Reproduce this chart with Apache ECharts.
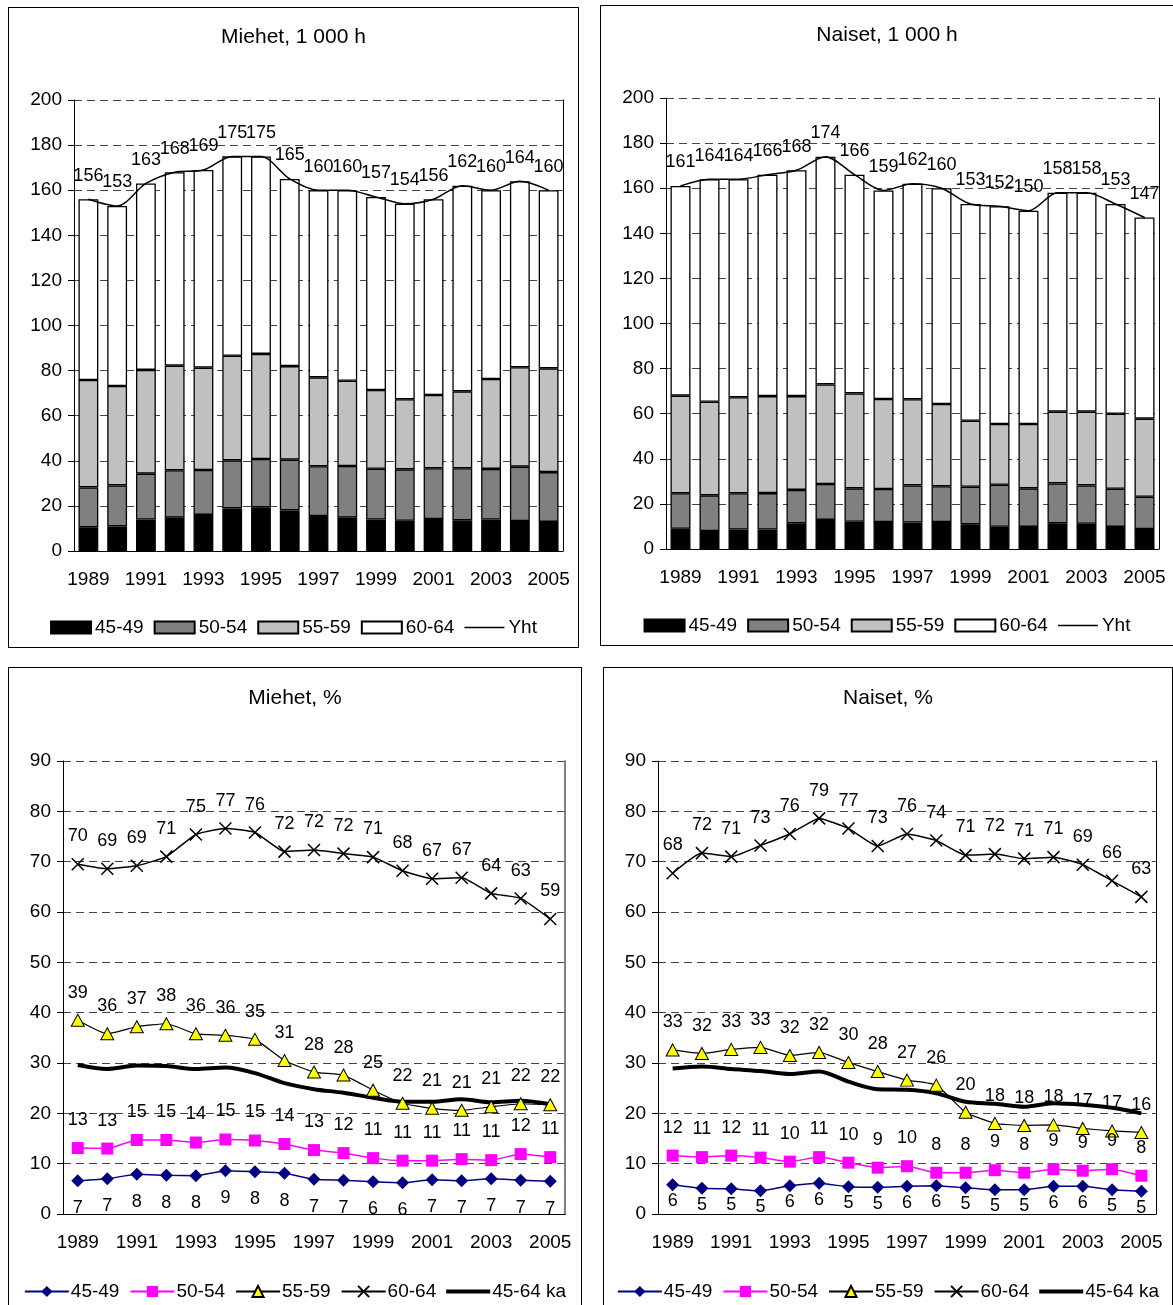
<!DOCTYPE html>
<html>
<head>
<meta charset="utf-8">
<script src="https://cdn.jsdelivr.net/npm/echarts@6/dist/echarts.min.js"></script>
<style>
  html, body { margin: 0; padding: 0; background: #fff; }
  body { width: 1173px; height: 1305px; overflow: hidden; position: relative; }
  .panel { position: absolute; border: 1px solid #000; box-sizing: border-box; background: #fff; }
  #c1 { left: 8px; top: 7px; width: 571px; height: 641px; }
  #c2 { left: 600px; top: 5px; width: 574px; height: 641px; }
  #c3 { left: 8px; top: 667px; width: 574px; height: 660px; }
  #c4 { left: 603px; top: 667px; width: 570px; height: 660px; }
</style>
</head>
<body>
<div class="panel" id="c1"></div>
<div class="panel" id="c2"></div>
<div class="panel" id="c3"></div>
<div class="panel" id="c4"></div>
<script>
var years = ['1989', '1990', '1991', '1992', '1993', '1994', '1995', '1996', '1997',
    '1998', '1999', '2000', '2001', '2002', '2003', '2004', '2005'];

// 1 000 henkeä, miehet
var menK4549 = [10.5, 10.9, 14.0, 14.8, 16.0, 18.9, 19.4, 18.0, 15.5, 14.8, 14.0, 13.4, 14.2, 13.6, 14.0, 13.3, 12.9];
var menK5054 = [17.7, 18.2, 20.3, 21.0, 19.9, 21.3, 21.4, 22.5, 22.1, 22.9, 22.5, 22.8, 22.5, 23.1, 22.4, 24.1, 22.1];
var menK5559 = [47.6, 44.1, 46.0, 46.4, 45.4, 46.4, 46.6, 41.5, 39.4, 37.8, 34.9, 31.1, 32.5, 34.1, 39.9, 44.1, 46.0];
var menK6064 = [80.2, 79.8, 82.7, 85.8, 87.7, 88.4, 87.6, 83.0, 83.0, 84.5, 85.6, 86.7, 86.8, 91.2, 83.7, 82.5, 79.0];
var menKYht = [156, 153, 163, 168, 169, 175, 175, 165, 160, 160, 157, 154, 156, 162, 160, 164, 160];

// 1 000 henkeä, naiset
var naiK4549 = [9.0, 8.0, 8.6, 8.6, 11.4, 12.9, 12.1, 12.0, 11.7, 12.0, 11.0, 9.9, 9.8, 11.4, 11.2, 9.8, 8.9];
var naiK5054 = [15.7, 15.8, 16.1, 16.2, 14.8, 15.9, 14.8, 14.6, 16.5, 15.8, 16.6, 18.6, 17.1, 17.7, 17.0, 16.9, 14.3];
var naiK5559 = [43.3, 41.5, 42.6, 43.0, 41.6, 44.2, 42.1, 39.9, 38.2, 36.5, 29.3, 26.9, 28.5, 31.8, 32.7, 33.3, 34.6];
var naiK6064 = [93.0, 98.7, 96.7, 98.2, 100.2, 101.0, 97.0, 92.5, 95.6, 95.7, 96.1, 96.6, 94.6, 97.1, 97.1, 93.0, 89.2];
var naiKYht = [161, 164, 164, 166, 168, 174, 166, 159, 162, 160, 153, 152, 150, 158, 158, 153, 147];

// %, miehet
var menP4549 = [6.6, 7.0, 7.9, 7.7, 7.6, 8.6, 8.4, 8.1, 6.9, 6.7, 6.4, 6.2, 6.8, 6.6, 7.0, 6.7, 6.5];
var menP5054 = [13.1, 13.0, 14.7, 14.7, 14.2, 14.8, 14.6, 13.9, 12.7, 12.1, 11.1, 10.6, 10.6, 10.9, 10.7, 11.9, 11.3];
var menP5559 = [38.5, 35.8, 37.2, 37.8, 35.8, 35.5, 34.7, 30.5, 28.2, 27.6, 24.6, 22.0, 21.0, 20.6, 21.3, 21.9, 21.7];
var menP6064 = [69.5, 68.6, 69.2, 71.0, 75.4, 76.6, 75.8, 72.0, 72.3, 71.6, 70.9, 68.2, 66.6, 66.8, 63.7, 62.7, 58.6];
var menP4564 = [29.6, 28.8, 29.5, 29.4, 28.8, 29.1, 28.0, 26.0, 24.8, 24.1, 23.1, 22.3, 22.3, 22.8, 22.2, 22.5, 21.8];

// %, naiset
var naiP4549 = [5.8, 5.1, 5.0, 4.6, 5.6, 6.1, 5.4, 5.3, 5.5, 5.6, 5.2, 4.8, 4.8, 5.5, 5.5, 4.8, 4.5];
var naiP5054 = [11.6, 11.3, 11.6, 11.2, 10.4, 11.3, 10.2, 9.2, 9.5, 8.2, 8.2, 8.7, 8.2, 8.9, 8.6, 8.9, 7.6];
var naiP5559 = [32.6, 31.9, 32.7, 33.1, 31.5, 32.1, 30.1, 28.3, 26.6, 25.6, 20.2, 18.0, 17.6, 17.7, 17.0, 16.5, 16.2];
var naiP6064 = [67.7, 71.7, 71.0, 73.2, 75.5, 78.6, 76.6, 73.1, 75.5, 74.2, 71.3, 71.5, 70.6, 70.9, 69.4, 66.2, 63.0];
var naiP4564 = [28.9, 29.3, 28.8, 28.4, 27.8, 28.3, 26.3, 24.8, 24.7, 24.0, 22.3, 21.9, 21.3, 22.0, 21.7, 21.1, 20.0];

var FONT = '"Liberation Sans", Arial, sans-serif';

function round(p) {
    return Math.round(p.value);
}

function axes(max, interval, rightColor, rightWidth) {
    return {
        xAxis: {
            type: 'category',
            data: years,
            boundaryGap: true,
            axisLine: { lineStyle: { color: '#000', width: 1 } },
            axisTick: { interval: 0, length: 6, lineStyle: { color: '#000' } },
            axisLabel: { interval: 1, margin: 19, color: '#000', fontSize: 19, fontFamily: FONT }
        },
        yAxis: [{
            type: 'value',
            min: 0,
            max: max,
            interval: interval,
            axisLine: { show: true, lineStyle: { color: '#000', width: 1 } },
            axisTick: { show: true, length: 6, lineStyle: { color: '#000' } },
            axisLabel: { margin: 12, color: '#000', fontSize: 19, fontFamily: FONT },
            splitLine: { show: true, lineStyle: { color: '#444', type: [8, 5], width: 1 } }
        }, {
            type: 'value',
            position: 'right',
            min: 0,
            max: max,
            interval: interval,
            axisLine: { show: true, lineStyle: { color: rightColor, width: rightWidth } },
            axisTick: { show: false },
            axisLabel: { show: false },
            splitLine: { show: false }
        }]
    };
}

function barOption(title, d1, d2, d3, d4, total, grid) {
    var ax = axes(200, 20, '#000', 1);
    var bar = function (name, data, color) {
        return {
            name: name,
            type: 'bar',
            stack: 'k',
            barWidth: '69%',
            data: data,
            itemStyle: { color: color, borderColor: '#000', borderWidth: 1.3 }
        };
    };
    return {
        animation: false,
        textStyle: { fontFamily: FONT },
        title: {
            text: title,
            left: 'center',
            top: 19,
            padding: 0,
            textStyle: { fontSize: 21, fontWeight: 'normal', color: '#000', fontFamily: FONT }
        },
        grid: grid,
        legend: {
            bottom: 10,
            left: 'center',
            padding: 0,
            itemWidth: 40,
            itemHeight: 12,
            itemGap: 10,
            textStyle: { fontSize: 19, color: '#000', fontFamily: FONT, padding: [0, 0, 0, -1] },
            data: [
                { name: '45-49', icon: 'rect' },
                { name: '50-54', icon: 'rect' },
                { name: '55-59', icon: 'rect' },
                { name: '60-64', icon: 'rect' },
                { name: 'Yht', icon: 'path://M0,0L40,0L40,1.5L0,1.5Z', itemStyle: { color: '#000' } }]
        },
        xAxis: ax.xAxis,
        yAxis: ax.yAxis,
        series: [
            bar('45-49', d1, '#000000'),
            bar('50-54', d2, '#808080'),
            bar('55-59', d3, '#c0c0c0'),
            bar('60-64', d4, '#ffffff'),
            {
                name: 'Yht',
                type: 'line',
                data: total,
                smooth: 0.3,
                symbol: 'circle',
                symbolSize: 1,
                itemStyle: { color: '#000' },
                lineStyle: { color: '#000', width: 1.5 },
                label: { show: true, position: 'top', distance: 14, color: '#000', fontSize: 18, fontFamily: FONT },
                z: 5
            }
        ]
    };
}

function lineOption(title, d1, d2, d3, d4, avg, grid, lowDist, rightColor, rightWidth) {
    var ax = axes(90, 10, rightColor, rightWidth);
    var lbl = function (pos, dist) {
        return { show: true, position: pos, distance: dist, color: '#000', fontSize: 18, fontFamily: FONT, formatter: round };
    };
    return {
        animation: false,
        textStyle: { fontFamily: FONT },
        title: {
            text: title,
            left: 'center',
            top: 20,
            padding: 0,
            textStyle: { fontSize: 21, fontWeight: 'normal', color: '#000', fontFamily: FONT }
        },
        grid: grid,
        legend: {
            top: 614,
            left: 'center',
            padding: 0,
            itemWidth: 44,
            itemHeight: 14,
            itemGap: 10,
            textStyle: { fontSize: 19, color: '#000', fontFamily: FONT, padding: [0, 0, 0, -3] },
            data: ['45-49', '50-54', '55-59', '60-64',
                { name: '45-64 ka', icon: 'path://M0,0L44,0L44,4L0,4Z', itemStyle: { color: '#000' } }]
        },
        xAxis: ax.xAxis,
        yAxis: ax.yAxis,
        series: [
            {
                name: '45-49',
                type: 'line',
                data: d1,
                smooth: 0.15,
                symbol: 'diamond',
                symbolSize: [13, 13],
                itemStyle: { color: '#000080' },
                lineStyle: { color: '#000080', width: 1.5 },
                label: lbl('bottom', lowDist)
            },
            {
                name: '50-54',
                type: 'line',
                data: d2,
                smooth: 0.15,
                symbol: 'rect',
                symbolSize: 12,
                itemStyle: { color: '#ff00ff' },
                lineStyle: { color: '#ff00ff', width: 1.5 },
                label: lbl('top', 13)
            },
            {
                name: '55-59',
                type: 'line',
                data: d3,
                smooth: 0.15,
                symbol: 'triangle',
                symbolSize: [13, 12],
                itemStyle: { color: '#ffff00', borderColor: '#000', borderWidth: 1 },
                lineStyle: { color: '#000', width: 1.2 },
                label: lbl('top', 12)
            },
            {
                name: '60-64',
                type: 'line',
                data: d4,
                smooth: 0.15,
                symbol: 'path://M0,0L10,10M10,0L0,10',
                symbolSize: 12,
                itemStyle: { color: '#000', borderColor: '#000', borderWidth: 1.5 },
                lineStyle: { color: '#000', width: 1.5 },
                label: lbl('top', 12)
            },
            {
                name: '45-64 ka',
                type: 'line',
                data: avg,
                smooth: 0.3,
                showSymbol: false,
                symbol: 'none',
                itemStyle: { color: '#000' },
                lineStyle: { color: '#000', width: 4 },
                z: 1
            }
        ]
    };
}

var chart1 = echarts.init(document.getElementById('c1'), null, { renderer: 'canvas' });
chart1.setOption(barOption('Miehet, 1 000 h', menK4549, menK5054, menK5559, menK6064, menKYht,
    { left: 65, top: 92, width: 489, height: 451 }));

var chart2 = echarts.init(document.getElementById('c2'), null, { renderer: 'canvas' });
chart2.setOption(barOption('Naiset, 1 000 h', naiK4549, naiK5054, naiK5559, naiK6064, naiKYht,
    { left: 65, top: 92, width: 493, height: 451 }));

var chart3 = echarts.init(document.getElementById('c3'), null, { renderer: 'canvas' });
chart3.setOption(lineOption('Miehet, %', menP4549, menP5054, menP5559, menP6064, menP4564,
    { left: 54, top: 93, width: 502, height: 453 }, 12, '#808080', 2));

var chart4 = echarts.init(document.getElementById('c4'), null, { renderer: 'canvas' });
chart4.setOption(lineOption('Naiset, %', naiP4549, naiP5054, naiP5559, naiP6064, naiP4564,
    { left: 54, top: 93, width: 498, height: 453 }, 1, '#000', 1));

window.addEventListener('resize', function () {
    chart1.resize();
    chart2.resize();
    chart3.resize();
    chart4.resize();
});
</script>
</body>
</html>
